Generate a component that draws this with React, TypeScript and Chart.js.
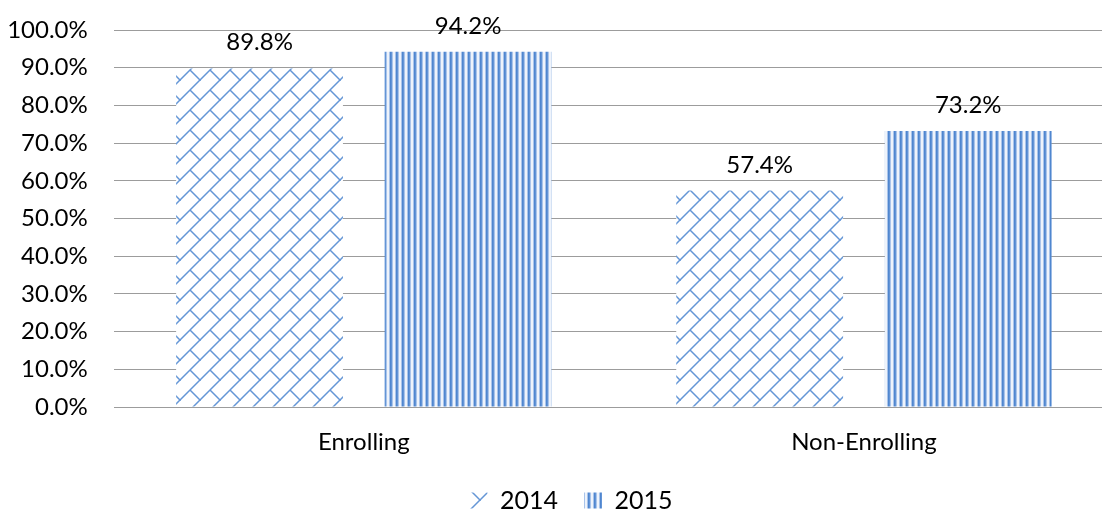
import React, { useEffect, useRef } from "react";
import { Chart, registerables } from "chart.js";

Chart.register(...registerables);

const categories = ["Enrolling", "Non-Enrolling"];
const seriesNames = ["2014", "2015"];
const values2014 = [89.8, 57.4];
const values2015 = [94.2, 73.2];
const yMax = 100;
const yStep = 10;

const FONT = "Lato";
const TEXT = "#000000";

function brickPattern(): CanvasPattern | string {
  const T = 20;
  const c = document.createElement("canvas");
  c.width = T;
  c.height = T;
  const g = c.getContext("2d");
  if (!g) return "#5b8fd0";
  g.fillStyle = "#ffffff";
  g.fillRect(0, 0, T, T);
  g.strokeStyle = "#6496d6";
  g.lineWidth = 1.5;
  g.lineCap = "round";
  for (let dx = -T; dx <= T; dx += T) {
    for (let dy = -T; dy <= T; dy += T) {
      g.beginPath();
      g.moveTo(0 + dx, T + dy);
      g.lineTo(T + dx, 0 + dy);
      g.moveTo(T / 2 + dx, T / 2 + dy);
      g.lineTo(T + dx, T + dy);
      g.stroke();
    }
  }
  return g.createPattern(c, "repeat") || "#5b8fd0";
}

function stripePattern(): CanvasPattern | string {
  const cols = ["#4f86cf", "#6394d6", "#a9c4ea", "#eef3fb", "#eef3fb", "#a9c4ea"];
  const c = document.createElement("canvas");
  c.width = cols.length;
  c.height = 4;
  const g = c.getContext("2d");
  if (!g) return "#6d9cd9";
  cols.forEach((col, i) => {
    g.fillStyle = col;
    g.fillRect(i, 0, 1, 4);
  });
  return g.createPattern(c, "repeat") || "#6d9cd9";
}

const valueLabels = {
  id: "valueLabels",
  afterDatasetsDraw(chart: any) {
    const ctx = chart.ctx;
    ctx.save();
    ctx.font = `24px ${FONT}`;
    ctx.fillStyle = TEXT;
    ctx.textAlign = "center";
    ctx.textBaseline = "alphabetic";
    chart.data.datasets.forEach((ds: any, i: number) => {
      chart.getDatasetMeta(i).data.forEach((bar: any, j: number) => {
        ctx.fillText(Number(ds.data[j]).toFixed(1) + "%", bar.x, bar.y - 18);
      });
    });
    ctx.restore();
  },
};

const legendShift = {
  id: "legendShift",
  afterLayout(chart: any) {
    const l = chart.legend;
    if (l) {
      l.left += 14;
      l.right += 14;
    }
  },
};

export default function App() {
  const ref = useRef<HTMLCanvasElement | null>(null);

  useEffect(() => {
    if (!ref.current) return;
    const chart = new Chart(ref.current, {
      type: "bar",
      data: {
        labels: categories,
        datasets: [
          {
            label: seriesNames[0],
            data: values2014,
            backgroundColor: brickPattern() as any,
            borderWidth: 0,
            categoryPercentage: 0.834,
            barPercentage: 0.8,
          },
          {
            label: seriesNames[1],
            data: values2015,
            backgroundColor: stripePattern() as any,
            borderWidth: 0,
            categoryPercentage: 0.834,
            barPercentage: 0.8,
          },
        ],
      },
      options: {
        animation: false,
        responsive: false,
        devicePixelRatio: 1,
        layout: { padding: { top: 30, left: 0, right: 0, bottom: 0 } },
        plugins: {
          legend: {
            position: "bottom",
            labels: {
              boxWidth: 18,
              boxHeight: 16,
              padding: 26,
              color: TEXT,
              font: { family: FONT, size: 25 },
            },
          },
          tooltip: { enabled: false },
        },
        scales: {
          x: {
            grid: { display: false },
            border: { display: false },
            ticks: {
              color: TEXT,
              font: { family: FONT, size: 24 },
              padding: 13,
            },
            afterFit: (scale: any) => {
              scale.height = 55;
            },
          },
          y: {
            min: 0,
            max: yMax,
            grid: { color: "#9c9c9c", lineWidth: 1, drawTicks: false },
            border: { display: false },
            ticks: {
              stepSize: yStep,
              padding: 26,
              color: TEXT,
              font: { family: FONT, size: 24 },
              callback: (v: any) => Number(v).toFixed(1) + "%",
            },
            afterFit: (scale: any) => {
              scale.width = 113.75;
              scale.paddingTop = 0;
              scale.paddingBottom = 0;
            },
          },
        },
      },
      plugins: [valueLabels, legendShift],
    });
    return () => chart.destroy();
  }, []);

  return (
    <div
      style={{
        position: "fixed",
        left: 0,
        top: 0,
        width: 1102,
        height: 513,
        overflow: "hidden",
        background: "#ffffff",
      }}
    >
      <canvas ref={ref} width={1114} height={523} style={{ display: "block", width: 1114, height: 523 }} />
    </div>
  );
}
